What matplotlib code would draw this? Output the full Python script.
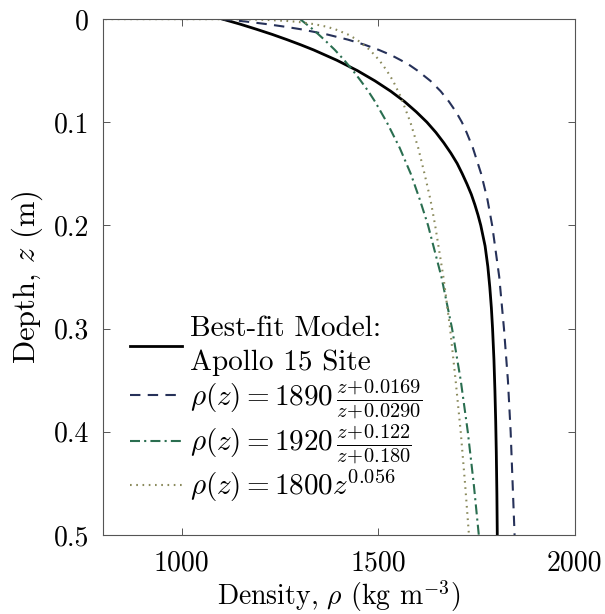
"""
plot.py - regolith density vs depth (Apollo 15 best fit and three model profiles).
"""
import matplotlib
matplotlib.use("Agg")
import matplotlib.pyplot as plt

# ── data (depth in m, density in kg/m^3) ────────────────────────────────────
best_z = [0, 0.005, 0.01, 0.015, 0.02, 0.025, 0.03, 0.04, 0.05, 0.06, 0.07,
          0.08, 0.09, 0.10, 0.11, 0.12, 0.13, 0.14, 0.15, 0.16, 0.17, 0.18,
          0.19, 0.20, 0.22, 0.24, 0.26, 0.28, 0.30, 0.33, 0.36, 0.39, 0.42,
          0.46, 0.5]
best_rho = [1103, 1149, 1191, 1231, 1268, 1303, 1336, 1395, 1447, 1492, 1532,
            1567, 1597, 1624, 1647, 1667, 1685, 1701, 1714, 1726, 1737, 1746,
            1754, 1761, 1772, 1779, 1784, 1788, 1791, 1794.5, 1797, 1799,
            1800.5, 1802, 1803]

dash_z = [0, 0.0025, 0.005, 0.0075, 0.01, 0.015, 0.02, 0.025, 0.03, 0.035,
          0.04, 0.045, 0.05, 0.06, 0.07, 0.08, 0.09, 0.1, 0.11, 0.125, 0.15,
          0.175, 0.2, 0.25, 0.3, 0.35, 0.4, 0.45, 0.5]
dash_rho = [1101, 1164, 1217, 1263, 1304, 1370, 1423, 1466, 1502, 1533,
            1558, 1581, 1600, 1633, 1659, 1680, 1698, 1713, 1725, 1741, 1762,
            1778, 1790, 1808, 1820, 1830, 1837, 1842, 1847]

dashdot_z = [0, 0.01, 0.02, 0.03, 0.04, 0.05, 0.06, 0.07, 0.08, 0.1, 0.125,
             0.15, 0.175, 0.2, 0.25, 0.3, 0.35, 0.4, 0.45, 0.5]
dashdot_rho = [1301, 1334, 1363, 1390, 1414, 1436, 1456, 1475, 1492, 1522,
               1555, 1583, 1606, 1627, 1661, 1688, 1710, 1728, 1743, 1756]

dot_z = [0, 0.0002, 0.0005, 0.001, 0.002, 0.003, 0.005, 0.0075, 0.01, 0.015,
         0.02, 0.03, 0.04, 0.05, 0.06, 0.075, 0.1, 0.125, 0.15, 0.175, 0.2,
         0.25, 0.3, 0.35, 0.4, 0.45, 0.5]
dot_rho = [0, 1117, 1176, 1222, 1271, 1300, 1337, 1369, 1391, 1423,
           1446, 1479, 1503, 1522, 1538, 1557, 1582, 1602, 1618, 1633, 1645,
           1666, 1683, 1697, 1710, 1721, 1731]

labels = ["Best-fit Model:\nApollo 15 Site",
          r"$\rho(z) = 1890\,\frac{z\!+\!0.0169}{z\!+\!0.0290}$",
          r"$\rho(z) = 1920\,\frac{z\!+\!0.122}{z\!+\!0.180}$",
          r"$\rho(z) = 1800z^{0.056}$"]

x_ticks = [1000, 1500, 2000]
y_ticks = [0, 0.1, 0.2, 0.3, 0.4, 0.5]
y_ticklabels = ["0", "0.1", "0.2", "0.3", "0.4", "0.5"]

plt.rcParams["font.family"] = "serif"
plt.rcParams["font.serif"] = ["cmr10", "DejaVu Serif"]
plt.rcParams["mathtext.fontset"] = "cm"
plt.rcParams["axes.formatter.use_mathtext"] = True

fig = plt.figure(figsize=(6.05, 6.14), dpi=100)
ax = fig.add_axes([0.170, 0.1287, 0.780, 0.8404])

ax.plot(best_rho, best_z, color="black", lw=2.0, label=labels[0])
ax.plot(dash_rho, dash_z, color="#263159", lw=1.5, dashes=(5, 3.5),
        label=labels[1])
ax.plot(dashdot_rho, dashdot_z, color="#2a6e50", lw=1.5,
        dashes=(4.8, 2, 1, 2), label=labels[2])
ax.plot(dot_rho, dot_z, color="#8a8a5c", lw=1.5, dashes=(0.8, 2.2),
        label=labels[3])

ax.set_xlim(800, 2000)
ax.set_ylim(0.5, 0)
ax.set_xticks(x_ticks)
ax.set_xticklabels([str(t) for t in x_ticks])
ax.set_yticks(y_ticks)
ax.set_yticklabels(y_ticklabels)
ax.tick_params(direction="in", length=5, width=0.7, color="#555555",
               labelsize=20, top=True, right=True)
ax.tick_params(axis="x", pad=11)
ax.tick_params(axis="y", pad=10)
for s in ax.spines.values():
    s.set_color("#555555"); s.set_linewidth(0.8)

ax.set_xlabel(r"Density, $\rho$ (kg m$^{-3}$)", fontsize=20, labelpad=1)
ax.set_ylabel(r"Depth, $z$ (m)", fontsize=22, labelpad=6)

leg = ax.legend(loc="lower left", bbox_to_anchor=(0.057, 0.06),
                frameon=False, fontsize=21, handlelength=1.8,
                handletextpad=0.25, labelspacing=0.05, borderpad=0,
                borderaxespad=0)
leg.get_texts()[0].set_linespacing(1.35)

fig.savefig("out.png", dpi=100)
